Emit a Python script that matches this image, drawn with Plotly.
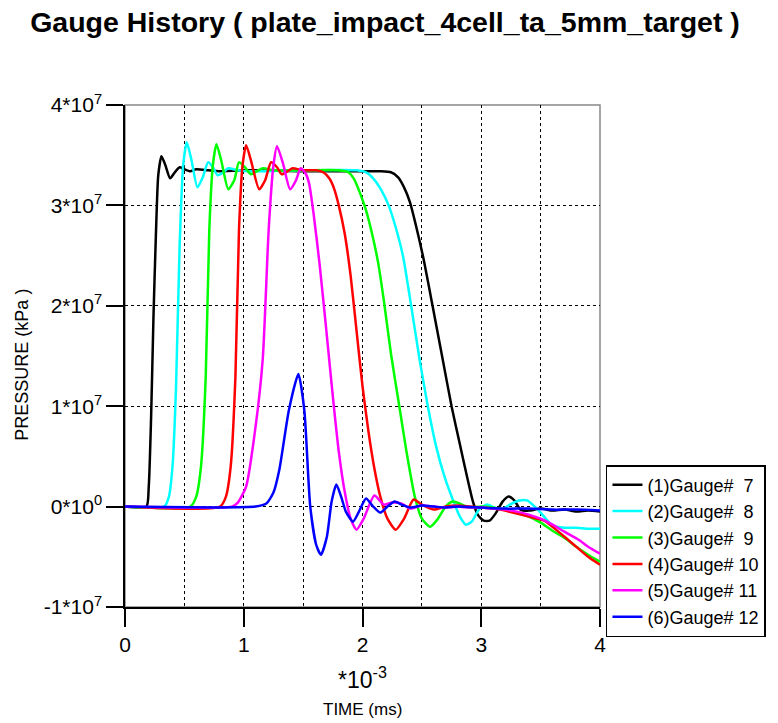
import plotly.graph_objects as go

# time in units of 1e-3 ms, pressure in units of 1e7 kPa
t_g7 = [0, 0.18, 0.20, 0.22, 0.24, 0.26, 0.28, 0.307, 0.34, 0.38, 0.42, 0.46, 0.50, 0.55, 0.60, 0.7, 0.8, 1.0, 1.5, 2.0, 2.15, 2.24, 2.30, 2.35, 2.40, 2.45, 2.51, 2.59, 2.67, 2.75, 2.82, 2.88, 2.93, 2.97, 3.02, 3.07, 3.12, 3.18, 3.23, 3.28, 3.33, 3.4, 3.5, 3.6, 3.7, 3.8, 3.9, 4.0]
p_g7 = [0, 0, 0.2, 0.9, 1.9, 2.7, 3.3, 3.49, 3.4, 3.27, 3.33, 3.38, 3.36, 3.34, 3.36, 3.35, 3.34, 3.35, 3.34, 3.34, 3.34, 3.33, 3.28, 3.18, 3.03, 2.8, 2.49, 2.0, 1.5, 1.0, 0.62, 0.3, 0.05, -0.08, -0.14, -0.14, -0.07, 0.05, 0.10, 0.06, -0.03, -0.04, -0.02, -0.04, -0.03, -0.05, -0.04, -0.05]

t_g8 = [0, 0.33, 0.37, 0.40, 0.43, 0.46, 0.49, 0.52, 0.56, 0.61, 0.655, 0.70, 0.74, 0.78, 0.83, 0.87, 0.95, 1.05, 1.5, 1.95, 2.03, 2.09, 2.15, 2.22, 2.28, 2.34, 2.41, 2.48, 2.55, 2.62, 2.69, 2.76, 2.82, 2.87, 2.92, 2.98, 3.05, 3.11, 3.17, 3.24, 3.32, 3.39, 3.45, 3.5, 3.55, 3.6, 3.7, 3.8, 3.9, 4.0]
p_g8 = [0, 0, 0.1, 0.4, 1.2, 2.6, 3.4, 3.63, 3.45, 3.18, 3.28, 3.43, 3.38, 3.30, 3.33, 3.37, 3.35, 3.34, 3.35, 3.35, 3.33, 3.27, 3.17, 3.0, 2.78, 2.5, 2.0, 1.47, 1.0, 0.6, 0.3, 0.07, -0.1, -0.18, -0.15, -0.03, 0.02, -0.01, -0.03, 0.02, 0.06, 0.06, 0.0, -0.06, -0.13, -0.19, -0.21, -0.21, -0.22, -0.22]

t_g9 = [0, 0.55, 0.60, 0.64, 0.68, 0.71, 0.74, 0.77, 0.81, 0.87, 0.92, 0.96, 1.01, 1.06, 1.11, 1.16, 1.25, 1.5, 1.8, 1.88, 1.93, 1.98, 2.03, 2.08, 2.13, 2.18, 2.24, 2.31, 2.37, 2.44, 2.50, 2.57, 2.63, 2.70, 2.76, 2.82, 2.9, 3.0, 3.1, 3.2, 3.3, 3.4, 3.5, 3.6, 3.7, 3.8, 3.9, 4.0]
p_g9 = [0, 0, 0.1, 0.4, 1.3, 2.76, 3.4, 3.61, 3.45, 3.16, 3.25, 3.43, 3.38, 3.31, 3.34, 3.37, 3.35, 3.35, 3.35, 3.33, 3.26, 3.12, 2.95, 2.72, 2.44, 2.05, 1.52, 1.0, 0.55, 0.1, -0.12, -0.2, -0.13, 0.0, 0.05, 0.03, -0.01, 0.0, -0.01, -0.03, -0.06, -0.1, -0.16, -0.24, -0.31, -0.4, -0.48, -0.55]

t_g10 = [0, 0.80, 0.85, 0.89, 0.93, 0.96, 0.99, 1.02, 1.06, 1.13, 1.18, 1.23, 1.28, 1.32, 1.37, 1.41, 1.5, 1.61, 1.67, 1.72, 1.76, 1.80, 1.85, 1.90, 1.95, 2.00, 2.05, 2.10, 2.15, 2.21, 2.28, 2.35, 2.43, 2.5, 2.6, 2.7, 2.8, 2.9, 3.0, 3.1, 3.2, 3.3, 3.4, 3.53, 3.69, 3.8, 3.9, 4.0]
p_g10 = [0, 0, 0.1, 0.4, 1.3, 2.76, 3.4, 3.60, 3.45, 3.16, 3.25, 3.43, 3.38, 3.31, 3.34, 3.37, 3.35, 3.35, 3.33, 3.27, 3.17, 3.0, 2.72, 2.3, 1.75, 1.2, 0.75, 0.38, 0.1, -0.12, -0.23, -0.12, 0.07, 0.02, -0.03, 0.0, 0.01, 0.0, -0.01, -0.02, -0.04, -0.07, -0.1, -0.14, -0.29, -0.4, -0.5, -0.58]

t_g11 = [0, 0.90, 0.95, 1.02, 1.10, 1.16, 1.21, 1.25, 1.28, 1.33, 1.39, 1.44, 1.48, 1.52, 1.55, 1.59, 1.64, 1.70, 1.75, 1.80, 1.85, 1.90, 1.95, 2.01, 2.10, 2.18, 2.25, 2.33, 2.4, 2.5, 2.6, 2.7, 2.8, 2.9, 3.0, 3.1, 3.2, 3.3, 3.4, 3.5, 3.6, 3.7, 3.82, 3.9, 4.0]
p_g11 = [0, 0, 0.04, 0.2, 0.8, 1.47, 2.76, 3.4, 3.59, 3.42, 3.16, 3.25, 3.37, 3.32, 3.22, 2.9, 2.4, 1.7, 1.1, 0.55, 0.15, -0.12, -0.23, -0.12, 0.11, 0.02, 0.04, 0.03, -0.02, 0.01, 0.0, -0.01, 0.0, -0.01, -0.01, -0.02, -0.03, -0.05, -0.08, -0.12, -0.18, -0.25, -0.33, -0.4, -0.47]

t_g12 = [0, 1.10, 1.19, 1.25, 1.30, 1.38, 1.46, 1.51, 1.56, 1.61, 1.65, 1.70, 1.74, 1.78, 1.82, 1.86, 1.92, 1.97, 2.03, 2.09, 2.15, 2.21, 2.27, 2.33, 2.4, 2.5, 2.6, 2.7, 2.8, 3.0, 3.2, 3.4, 3.6, 3.8, 4.0]
p_g12 = [0, 0, 0.03, 0.14, 0.37, 0.96, 1.32, 0.96, 0.0, -0.38, -0.48, -0.3, 0.05, 0.22, 0.1, -0.05, -0.15, -0.05, 0.08, 0.0, -0.06, 0.0, 0.05, 0.02, -0.01, 0.01, 0.0, -0.01, 0.0, -0.01, -0.02, -0.02, -0.03, -0.03, -0.04]

series_names = ["(1)Gauge#\u00a0\u00a07", "(2)Gauge#\u00a0\u00a08", "(3)Gauge#\u00a0\u00a09",
                "(4)Gauge#\u00a010", "(5)Gauge#\u00a011", "(6)Gauge#\u00a012"]
series_colors = ["#000000", "#00FFFF", "#00FF00", "#FF0000", "#FF00FF", "#0000FF"]
series_t = [t_g7, t_g8, t_g9, t_g10, t_g11, t_g12]
series_p = [p_g7, p_g8, p_g9, p_g10, p_g11, p_g12]

y_tickvals = [-1, 0, 1, 2, 3, 4]
y_ticktext = ["-1*10<sup>7</sup>", "0*10<sup>0</sup>", "1*10<sup>7</sup>", "2*10<sup>7</sup>",
              "3*10<sup>7</sup>", "4*10<sup>7</sup>"]
x_tickvals = [0, 1, 2, 3, 4]
x_ticktext = ["0", "1", "2", "3", "4"]

FONT = "Arial, Liberation Sans, sans-serif"

fig = go.Figure()
for name, col, tt, pp in zip(series_names, series_colors, series_t, series_p):
    fig.add_trace(go.Scatter(x=tt, y=pp, mode="lines", name=name,
                             line=dict(color=col, width=2.5, shape="spline", smoothing=0.6)))

L, R, T, B = 125, 175, 105, 116
plot_h = 723 - T - B
plot_w = 778 - L - R
bottom_px = 723 - B

fig.update_layout(
    width=778, height=723,
    margin=dict(l=L, r=R, t=T, b=B),
    paper_bgcolor="white", plot_bgcolor="white",
    font=dict(family=FONT, color="black"),
    title=dict(text="<b>Gauge History ( plate_impact_4cell_ta_5mm_target )</b>",
               x=385 / 778, xref="container", xanchor="center", y=1 - 22 / 723,
               yref="container", yanchor="middle",
               font=dict(size=28.5, family=FONT, color="black")),
    showlegend=True,
    legend=dict(x=(609 - L) / plot_w, xanchor="left", y=(bottom_px - 465) / plot_h, yanchor="top",
                bordercolor="black", borderwidth=1.5, bgcolor="white",
                font=dict(size=18, family=FONT, color="black"),
                tracegroupgap=0, itemwidth=30),
    shapes=[dict(type="rect", xref="paper", yref="paper", x0=0, x1=1, y0=0, y1=1,
                 line=dict(color="#888888", width=1.5), layer="below")],
    annotations=[
        dict(text="*10<sup>-3</sup>", x=2, xref="x", y=(bottom_px - 678) / plot_h, yref="paper",
             showarrow=False, font=dict(size=23, family=FONT), xanchor="center", yanchor="middle"),
        dict(text="TIME (ms)", x=2, xref="x", y=(bottom_px - 709) / plot_h, yref="paper",
             showarrow=False, font=dict(size=17, family=FONT), xanchor="center", yanchor="middle"),
        dict(text="PRESSURE (kPa )", x=(21 - L) / plot_w, xref="paper", y=(bottom_px - 365) / plot_h,
             yref="paper", showarrow=False, textangle=-90, font=dict(size=18, family=FONT),
             xanchor="center", yanchor="middle"),
    ],
)

fig.update_xaxes(range=[0, 4], tickvals=x_tickvals, ticktext=x_ticktext,
                 showline=True, linecolor="black", linewidth=1.5,
                 ticks="outside", ticklen=18, tickwidth=1.5, tickcolor="black",
                 tickfont=dict(size=21, family=FONT),
                 showgrid=True, gridcolor="black", gridwidth=1, griddash="3px,3px",
                 minor=dict(dtick=0.5, tick0=0, showgrid=True, gridcolor="black",
                            gridwidth=1, griddash="3px,3px", ticklen=0),
                 zeroline=False, fixedrange=True)
fig.update_yaxes(range=[-1, 4], tickvals=y_tickvals, ticktext=y_ticktext,
                 showline=True, linecolor="black", linewidth=1.5,
                 ticks="outside", ticklen=17, tickwidth=1.5, tickcolor="black",
                 tickfont=dict(size=21, family=FONT),
                 showgrid=True, gridcolor="black", gridwidth=1, griddash="3px,3px",
                 zeroline=False, fixedrange=True)

fig.write_html("out.html")
